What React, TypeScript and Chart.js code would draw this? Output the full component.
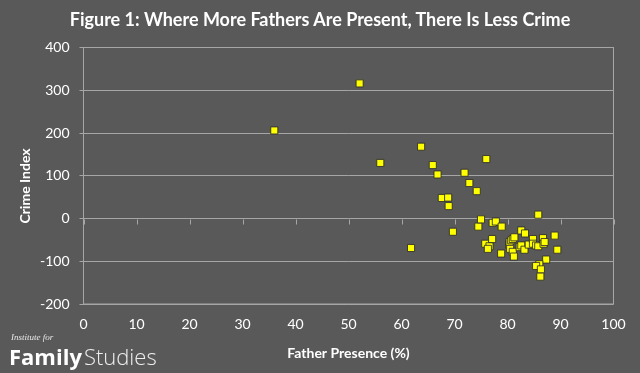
import React, { useEffect, useRef } from "react";
import { Chart, registerables } from "chart.js";

Chart.register(...registerables);

const fatherPresence = [
  36.0, 52.1, 56.0, 61.8, 63.7, 65.9, 66.8, 67.6, 68.8, 68.9, 69.7, 71.9, 72.8, 74.2, 74.5, 75.0, 76.0,
  77.2, 77.8, 78.9, 75.8, 76.6, 76.3, 77.1, 78.8, 80.3, 80.4, 80.7, 80.5, 81.0, 81.0, 81.2, 81.3, 82.3,
  82.6, 83.3, 82.6, 83.2, 84.0, 84.8, 84.8, 85.4, 85.8, 85.8, 86.7, 86.8, 87.0, 88.9, 89.4, 87.3, 86.0,
  85.4, 86.3, 86.2,
];
const crimeIndex = [
  206, 316, 130, -69, 168, 125, 103, 48, 49, 29, -31, 107, 83, 64, -19, -2, 139,
  -10, -7, -19, -59, -65, -71, -48, -82, -61, -55, -51, -71, -48, -78, -89, -44, -67,
  -28, -35, -63, -73, -61, -48, -59, -63, -65, 9, -46, -59, -55, -40, -73, -96, -107,
  -111, -119, -136,
];
const xTicks = { min: 0, max: 100, step: 10 };
const yTicks = { min: -200, max: 400, step: 100 };
const xAxisCrossing = 0;

const titleText = "Figure 1: Where More Fathers Are Present, There Is Less Crime";
const xTitle = "Father Presence (%)";
const yTitle = "Crime Index";

const FONT = "Lato, 'Open Sans', sans-serif";
const GRID = "#a6a6a6";

const plotBorder = {
  id: "plotBorder",
  afterDatasetsDraw(chart: any) {
    const { ctx, chartArea, scales } = chart;
    ctx.save();
    ctx.strokeStyle = GRID;
    ctx.lineWidth = 1;
    ctx.strokeRect(chartArea.left, chartArea.top, chartArea.right - chartArea.left, chartArea.bottom - chartArea.top);
    ctx.restore();
  },
  beforeDatasetsDraw(chart: any) {
    const { ctx, scales } = chart;
    const y0 = Math.round(scales.y.getPixelForValue(xAxisCrossing)) + 0.5;
    ctx.save();
    ctx.strokeStyle = GRID;
    ctx.lineWidth = 1;
    ctx.beginPath();
    for (const t of scales.x.ticks) {
      const px = Math.round(scales.x.getPixelForValue(t.value)) + 0.5;
      ctx.moveTo(px, y0);
      ctx.lineTo(px, y0 + 5);
    }
    ctx.stroke();
    ctx.restore();
  },
};

export default function App() {
  const ref = useRef<HTMLCanvasElement | null>(null);
  useEffect(() => {
    document.body.style.margin = "0";
    const points = fatherPresence.map((x, i) => ({ x, y: crimeIndex[i] }));
    const chart = new Chart(ref.current as HTMLCanvasElement, {
      type: "scatter",
      data: {
        datasets: [
          {
            data: points,
            pointStyle: "rect",
            pointRadius: 5,
            pointHoverRadius: 5,
            backgroundColor: "#ffff00",
            borderColor: "rgba(45,45,45,0.85)",
            borderWidth: 1,
          },
        ],
      },
      options: {
        animation: false,
        responsive: false,
        maintainAspectRatio: false,
        layout: { padding: { left: 0, right: 26.5, top: 47.5, bottom: 11 } },
        plugins: { legend: { display: false }, tooltip: { enabled: false }, title: { display: false } },
        scales: {
          x: {
            type: "linear",
            min: xTicks.min,
            max: xTicks.max,
            ticks: { stepSize: xTicks.step, color: "#ffffff", font: { family: FONT, size: 14 }, padding: 12 },
            grid: { display: false, drawTicks: false },
            border: { display: false },
            title: { display: true, text: xTitle, color: "#ffffff", font: { family: FONT, size: 14, weight: "bold" }, padding: 0 },
            afterFit: (s: any) => { s.height = 58; },
          },
          y: {
            type: "linear",
            min: yTicks.min,
            max: yTicks.max,
            ticks: { stepSize: yTicks.step, color: "#ffffff", font: { family: FONT, size: 14 }, padding: 10 },
            grid: { color: GRID, lineWidth: 1, tickLength: 4, drawTicks: true },
            border: { display: true, color: GRID },
            afterFit: (s: any) => { s.width = 83.5; },
          },
        },
      } as any,
      plugins: [plotBorder],
    });
    return () => chart.destroy();
  }, []);

  return (
    <div style={{ position: "relative", width: 640, height: 373, background: "#595959", overflow: "hidden", fontFamily: FONT }}>
      <canvas ref={ref} width={640} height={373} style={{ position: "absolute", left: 0, top: 0, width: 640, height: 373 }} />
      <div style={{ position: "absolute", left: 0, width: 640, top: 8, textAlign: "center", color: "#ffffff", fontSize: 18, fontWeight: 700, whiteSpace: "nowrap" }}>
        {titleText}
      </div>
      <div style={{ position: "absolute", left: 23.5, top: 186, transform: "translate(-50%, -50%) rotate(-90deg)", color: "#ffffff", fontSize: 14, fontWeight: 700, whiteSpace: "nowrap" }}>
        {yTitle}
      </div>
      <div style={{ position: "absolute", left: 11, top: 332, color: "#e8e8e8", fontSize: 9, fontStyle: "italic", fontFamily: "'Liberation Serif', serif", whiteSpace: "nowrap" }}>
        Institute for
      </div>
      <div style={{ position: "absolute", left: 9, top: 343, color: "#ffffff", fontSize: 22, fontFamily: "'Open Sans', sans-serif", whiteSpace: "nowrap", lineHeight: "26px" }}>
        <span style={{ fontWeight: 700 }}>Family</span>
        <span style={{ fontWeight: 300, marginLeft: 2, color: "#eeeeee" }}>Studies</span>
      </div>
    </div>
  );
}
